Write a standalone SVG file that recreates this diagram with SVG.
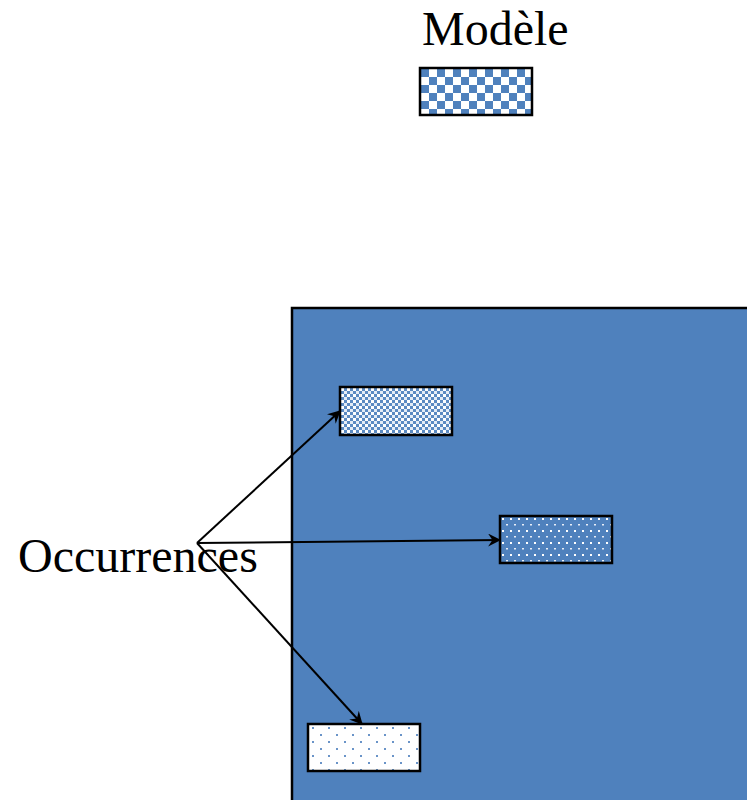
<svg xmlns="http://www.w3.org/2000/svg" width="747" height="800" viewBox="0 0 747 800">
  <defs>
    <!-- large checkerboard -->
    <pattern id="checkLarge" x="421" y="69" width="16" height="16" patternUnits="userSpaceOnUse">
      <rect width="16" height="16" fill="#ffffff"/>
      <rect width="8" height="8" fill="#4F81BD"/>
      <rect x="8" y="8" width="8" height="8" fill="#4F81BD"/>
    </pattern>
    <!-- small checkerboard -->
    <pattern id="checkSmall" x="341" y="388" width="6" height="6" patternUnits="userSpaceOnUse">
      <rect width="6" height="6" fill="#5b8ac2"/>
      <rect width="3" height="3" fill="#ffffff"/>
      <rect x="3" y="3" width="3" height="3" fill="#e4ecf6"/>
    </pattern>
    <!-- white dots on blue -->
    <pattern id="dotsOnBlue" x="500" y="516" width="8" height="12" patternUnits="userSpaceOnUse">
      <rect width="8" height="12" fill="#4F81BD"/>
      <rect x="2" y="2" width="2" height="2" fill="#ffffff"/>
      <rect x="6" y="8" width="2" height="1.5" fill="#e8eef7"/>
    </pattern>
    <!-- blue dots on white -->
    <pattern id="dotsOnWhite" x="308" y="724" width="16" height="14" patternUnits="userSpaceOnUse">
      <rect width="16" height="14" fill="#ffffff"/>
      <rect x="4" y="3" width="2" height="2" fill="#6a94c8"/>
      <rect x="12" y="10" width="2" height="2" fill="#6a94c8"/>
    </pattern>
    <marker id="arrow" viewBox="0 0 12 12" refX="11" refY="6" markerWidth="13" markerHeight="13" markerUnits="userSpaceOnUse" orient="auto">
      <path d="M0,0 L12,6 L0,12 L4,6 Z" fill="#000"/>
    </marker>
    <style>
      .lbl { font-family: "Liberation Serif", "Times New Roman", serif; font-size: 48px; fill: #000; }
      .box { stroke: #000; stroke-width: 2.5; }
      .conn { stroke: #000; stroke-width: 2; fill: none; marker-end: url(#arrow); }
    </style>
  </defs>

  <rect width="747" height="800" fill="#ffffff"/>

  <g id="model">
    <text class="lbl" x="422" y="45">Modèle</text>
    <rect class="box" x="420" y="68" width="112" height="47" fill="url(#checkLarge)"/>
  </g>

  <g id="area">
    <rect class="box" x="292" y="308" width="460" height="500" fill="#4F81BD"/>
  </g>

  <g id="occurrence1">
    <rect class="box" x="340" y="387" width="112" height="48" fill="url(#checkSmall)"/>
  </g>
  <g id="occurrence2">
    <rect class="box" x="500" y="516" width="112" height="47" fill="url(#dotsOnBlue)"/>
  </g>
  <g id="occurrence3">
    <rect class="box" x="308" y="724" width="112" height="47" fill="url(#dotsOnWhite)"/>
  </g>

  <g id="occurrences-label">
    <text class="lbl" x="18" y="572">Occurrences</text>
  </g>

  <g id="connectors">
    <line class="conn" x1="197" y1="543" x2="340" y2="411"/>
    <line class="conn" x1="197" y1="543" x2="500" y2="540"/>
    <line class="conn" x1="197" y1="543" x2="362" y2="724"/>
  </g>
</svg>
